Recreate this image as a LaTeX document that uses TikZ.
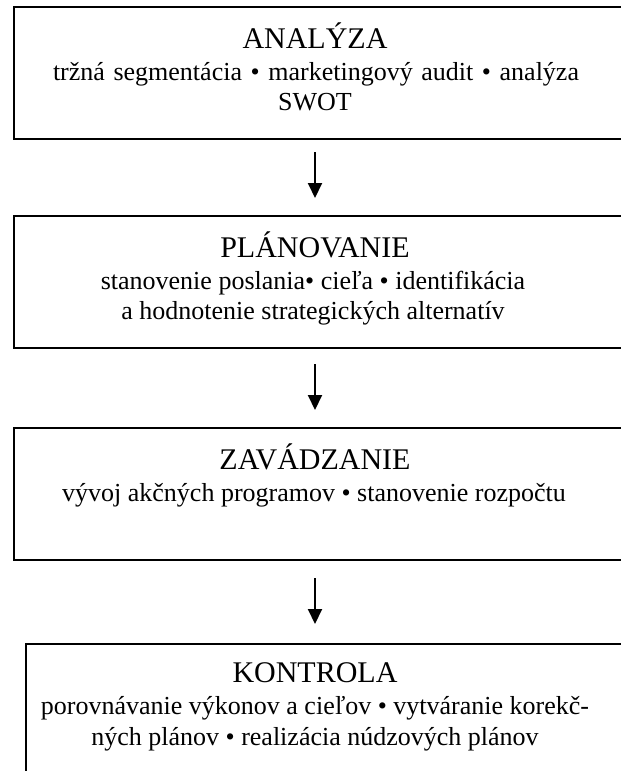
\documentclass[tikz,border=0pt]{standalone}
\usepackage{fontspec}
\setmainfont{Liberation Serif}
\usetikzlibrary{arrows.meta}
\begin{document}
\begin{tikzpicture}[x=1pt,y=-1pt,
  box/.style={draw, line width=2pt, anchor=north west, inner sep=0pt},
  title/.style={anchor=base, inner sep=0pt, font=\fontsize{30}{34}\selectfont},
  body/.style={anchor=base, inner sep=0pt, font=\fontsize{26}{30}\selectfont},
  arr/.style={-{Triangle[length=15pt,width=14pt]}, line width=2pt}]
\useasboundingbox (0,0) rectangle (621,771);
\clip (0,0) rectangle (621,771);
% boxes
\node[box, minimum width=640pt, minimum height=132pt] (b1) at (13,6) {};
\node[box, minimum width=640pt, minimum height=132pt] (b2) at (13,215) {};
\node[box, minimum width=640pt, minimum height=132pt] (b3) at (13,427) {};
\node[box, minimum width=640pt, minimum height=200pt] (b4) at (25,643) {};
% texts
\node[title] (t1a) at (315,48) {ANALÝZA};
\node[body]  (t1b) at (316,80) {\makebox[526pt][s]{tržná segmentácia • marketingový audit • analýza}};
\node[body]  (t1c) at (315,110) {SWOT};
\node[title] (t2a) at (315,257) {PLÁNOVANIE};
\node[body]  (t2b) at (313,289) {stanovenie poslania• cieľa • identifikácia};
\node[body]  (t2c) at (313,319) {a hodnotenie strategických alternatív};
\node[title] (t3a) at (315,469) {ZAVÁDZANIE};
\node[body]  (t3b) at (314,501) {vývoj akčných programov • stanovenie rozpočtu};
\node[title] (t4a) at (315,682) {KONTROLA};
\node[body]  (t4b) at (315,714) {porovnávanie výkonov a cieľov • vytváranie korekč-};
\node[body]  (t4c) at (315,745) {ných plánov • realizácia núdzových plánov};
% arrows
\draw[arr] ([yshift=-12pt]b1.south -| t1a) -- ([yshift=17pt]b2.north -| t1a);
\draw[arr] ([yshift=-15pt]b2.south -| t1a) -- ([yshift=17pt]b3.north -| t1a);
\draw[arr] ([yshift=-17pt]b3.south -| t1a) -- ([yshift=19pt]b4.north -| t1a);
\end{tikzpicture}
\end{document}
